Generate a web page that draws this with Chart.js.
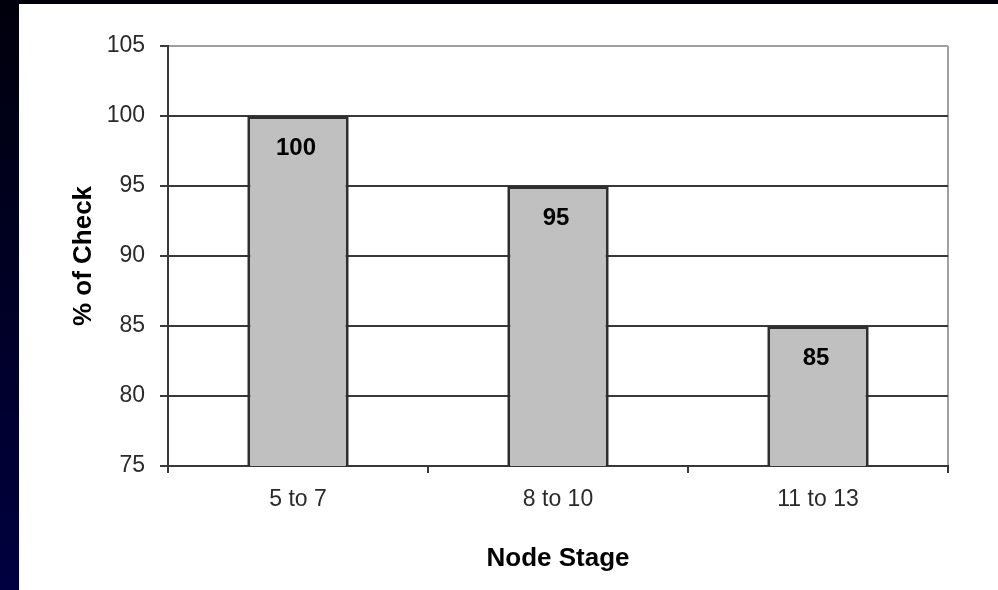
<!DOCTYPE html>
<html>
<head>
<meta charset="utf-8">
<script src="https://cdn.jsdelivr.net/npm/chart.js@4/dist/chart.umd.min.js"></script>
<style>
    html, body { margin: 0; padding: 0; }
    body {
        width: 998px;
        height: 590px;
        overflow: hidden;
        background: linear-gradient(#00000c, #000040);
        position: relative;
    }
    #panel {
        position: absolute;
        left: 19px;
        top: 4px;
        width: 979px;
        height: 586px;
        background: #fff;
    }
</style>
</head>
<body>
<div id="panel"><canvas id="stageChart" width="979" height="586"></canvas></div>
<script>
// ==========================================================================================================
// -- Data --
// ==========================================================================================================

const nodeStages = ['5 to 7', '8 to 10', '11 to 13'];
const checkPct = [100, 95, 85];

const yMin = 75;
const yMax = 105;
const yStep = 5;

const gridDark = '#383838';
const gridLight = '#a0a0a0';

// ==========================================================================================================
// -- Plugins --
// ==========================================================================================================

// Value labels inside the top of each bar ------------------------------------------------------------
const barValueLabels = {
    id: 'barValueLabels',
    afterDatasetsDraw(chart) {
        const { ctx } = chart;
        const meta = chart.getDatasetMeta(0);
        ctx.save();
        ctx.font = 'bold 24px "Liberation Sans", Arial, sans-serif';
        ctx.fillStyle = '#000';
        ctx.textAlign = 'center';
        ctx.textBaseline = 'middle';
        meta.data.forEach((bar, i) => {
            ctx.fillText(String(checkPct[i]), bar.x - 2, bar.y + 32);
        });
        ctx.restore();
    }
};

// ==========================================================================================================
// -- Chart --
// ==========================================================================================================

const ctx = document.getElementById('stageChart').getContext('2d');

new Chart(ctx, {
    type: 'bar',
    data: {
        labels: nodeStages,
        datasets: [
            {
                data: checkPct,
                backgroundColor: '#c0c0c0',
                borderColor: '#2e2e2e',
                borderWidth: 3,
                barPercentage: 0.39,
                categoryPercentage: 1,
            },
        ],
    },
    options: {
        responsive: false,
        animation: false,
        devicePixelRatio: 1,
        layout: { padding: { left: 31, top: 42, right: 50, bottom: 0 } },
        scales: {
            x: {
                offset: true,
                afterFit: (scale) => { scale.height = 124; },
                grid: {
                    offset: true,
                    drawOnChartArea: true,
                    // only the closing line on the right shows as the plot border
                    color: (c) => (c.tick ? 'rgba(0,0,0,0)' : gridLight),
                    tickColor: gridDark,
                    tickLength: 7,
                    lineWidth: 2,
                },
                border: { color: gridDark, width: 2 },
                ticks: {
                    color: '#2a2a2a',
                    padding: 13,
                    font: { family: '"Liberation Sans", Arial, sans-serif', size: 23 },
                },
                title: {
                    display: true,
                    text: 'Node Stage',
                    color: '#000',
                    padding: { top: 0, bottom: 16 },
                    font: { family: '"Liberation Sans", Arial, sans-serif', size: 26, weight: 'bold' },
                },
            },
            y: {
                min: yMin,
                max: yMax,
                afterFit: (scale) => { scale.width = 118; },
                grid: {
                    color: (c) => (c.tick && c.tick.value === yMax ? gridLight : gridDark),
                    tickColor: gridDark,
                    tickLength: 8,
                    lineWidth: 2,
                },
                border: { color: gridDark, width: 2 },
                ticks: {
                    stepSize: yStep,
                    color: '#2a2a2a',
                    padding: 15,
                    font: { family: '"Liberation Sans", Arial, sans-serif', size: 23 },
                },
                title: {
                    display: true,
                    text: '% of Check',
                    color: '#000',
                    padding: { top: 18, bottom: 0 },
                    font: { family: '"Liberation Sans", Arial, sans-serif', size: 26, weight: 'bold' },
                },
            },
        },
        plugins: {
            legend: { display: false },
            tooltip: { enabled: false },
        },
    },
    plugins: [barValueLabels],
});
</script>
</body>
</html>
